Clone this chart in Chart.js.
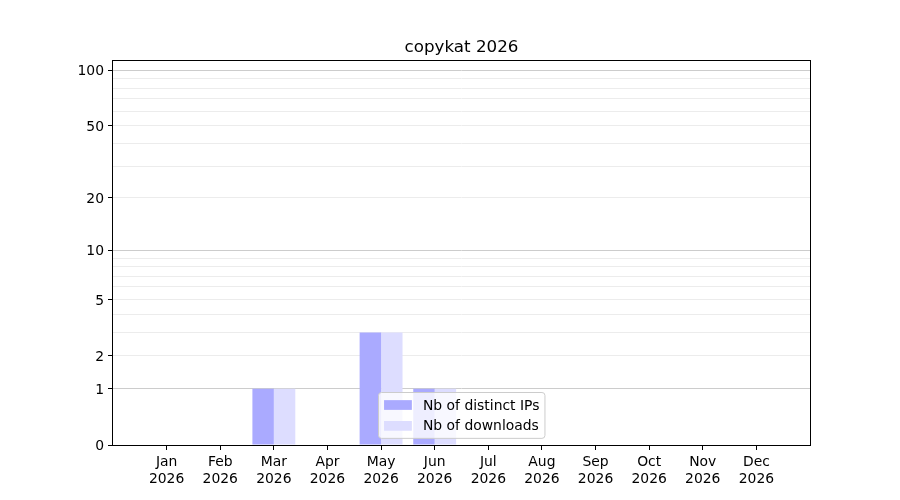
<!DOCTYPE html>
<html lang="en">
<head>
<meta charset="UTF-8">
<title>copykat 2026</title>
<script src="https://cdn.jsdelivr.net/npm/chart.js"></script>
<style>
  html, body { margin: 0; padding: 0; background: #fff; }
  #wrap { width: 900px; height: 500px; }
</style>
</head>
<body>
<div id="wrap"><canvas id="chart" width="900" height="500"></canvas></div>
<script>
// chart data
const chartTitle = 'copykat 2026';
const months = ['Jan', 'Feb', 'Mar', 'Apr', 'May', 'Jun', 'Jul', 'Aug', 'Sep', 'Oct', 'Nov', 'Dec'];
const year = '2026';
const distinctIPs = [0, 0, 1, 0, 3, 1, 0, 0, 0, 0, 0, 0];
const downloads = [0, 0, 1, 0, 3, 1, 0, 0, 0, 0, 0, 0];
const seriesNames = ['Nb of distinct IPs', 'Nb of downloads'];
const seriesColors = ['#aaaaff', '#ddddff'];

// y axis is log10(1 + v)
const yLabelled = [0, 1, 2, 5, 10, 20, 50, 100];
const yMajor = [1, 10, 100];
const yMinor = [2, 3, 4, 5, 6, 7, 8, 9, 20, 30, 40, 50, 60, 70, 80, 90];
const yTop = 113.6;

const FONT = "'DejaVu Sans', sans-serif";
const FS = 13.9;
const tf = v => Math.log10(1 + v);

// pad the month axis with an empty slot on both ends (matplotlib margins)
const labels = ['', ...months.map(m => [m, year]), ''];
const padded = arr => [null, ...arr.map(tf), null];

const decor = {
    id: 'decor',
    afterDatasetsDraw(chart) {
        const { ctx, chartArea: a } = chart;
        ctx.save();
        ctx.strokeStyle = '#000';
        ctx.lineWidth = 1;
        ctx.strokeRect(Math.round(a.left) - 0.5, Math.round(a.top) + 0.5,
            Math.round(a.right - a.left) + 1, Math.round(a.bottom - a.top));
        ctx.restore();
    },
    afterDraw(chart) {
        const { ctx, chartArea: a } = chart;
        const cx = (a.left + a.right) / 2;
        ctx.save();

        // title
        ctx.fillStyle = '#000';
        ctx.font = `16.7px ${FONT}`;
        ctx.textAlign = 'center';
        ctx.textBaseline = 'alphabetic';
        ctx.fillText(chartTitle, cx, a.top - 8.3);

        // legend, lower center inside the axes
        ctx.font = `${FS}px ${FONT}`;
        const pad = 0.4 * FS, hl = 2 * FS, htp = 0.8 * FS, sp = 0.5 * FS;
        const tw = Math.max(...seriesNames.map(s => ctx.measureText(s).width));
        const w = pad * 2 + hl + htp + tw;
        const h = pad * 2 + FS * seriesNames.length + sp * (seriesNames.length - 1);
        const x0 = Math.round(cx - w / 2) + 0.5;
        const y0 = Math.round(a.bottom - 0.5 * FS - h) + 0.5;
        ctx.beginPath();
        ctx.roundRect(x0, y0, w, h, 3);
        ctx.fillStyle = 'rgba(255,255,255,0.8)';
        ctx.fill();
        ctx.strokeStyle = '#cccccc';
        ctx.lineWidth = 1;
        ctx.stroke();

        ctx.textAlign = 'left';
        ctx.textBaseline = 'middle';
        seriesNames.forEach((name, i) => {
            const rowC = y0 + pad + FS / 2 + i * (FS + sp);
            ctx.fillStyle = seriesColors[i];
            ctx.fillRect(x0 + pad, rowC - 0.35 * FS, hl, 0.7 * FS);
            ctx.fillStyle = '#000';
            ctx.fillText(name, x0 + pad + hl + htp, rowC + 1);
        });
        ctx.restore();
    }
};

new Chart(document.getElementById('chart'), {
    type: 'bar',
    data: {
        labels: labels,
        datasets: [{
            label: seriesNames[0],
            data: padded(distinctIPs),
            backgroundColor: seriesColors[0],
            borderWidth: 0,
            categoryPercentage: 0.8,
            barPercentage: 1.0
        }, {
            label: seriesNames[1],
            data: padded(downloads),
            backgroundColor: seriesColors[1],
            borderWidth: 0,
            categoryPercentage: 0.8,
            barPercentage: 1.0
        }]
    },
    options: {
        responsive: false,
        animation: false,
        devicePixelRatio: 1,
        layout: { padding: { left: 0, top: 60, right: 90, bottom: 0 } },
        plugins: {
            legend: { display: false },
            tooltip: { enabled: false },
            title: { display: false }
        },
        scales: {
            x: {
                type: 'category',
                offset: false,
                border: { display: false },
                grid: {
                    offset: false,
                    drawOnChartArea: false,
                    drawTicks: true,
                    tickLength: 5,
                    tickColor: c => (c.index === 0 || c.index === labels.length - 1) ? 'rgba(0,0,0,0)' : '#000'
                },
                ticks: {
                    autoSkip: false,
                    maxRotation: 0,
                    padding: 4,
                    color: '#000',
                    font: { family: FONT, size: FS, lineHeight: 1.2 }
                },
                afterFit: s => { s.height = 55; }
            },
            y: {
                type: 'linear',
                min: 0,
                max: tf(yTop),
                border: { display: false },
                grid: {
                    color: c => {
                        const raw = c.tick && c.tick.raw;
                        if (raw === 0) return 'rgba(0,0,0,0)';
                        return yMajor.includes(raw) ? '#cccccc' : '#ececec';
                    },
                    tickColor: c => yLabelled.includes(c.tick && c.tick.raw) ? '#000' : 'rgba(0,0,0,0)',
                    tickLength: 5,
                    lineWidth: 1
                },
                afterBuildTicks: s => {
                    const vals = [...new Set([0, ...yMajor, ...yMinor])].sort((p, q) => p - q);
                    s.ticks = vals.map(v => ({ value: tf(v), raw: v }));
                },
                ticks: {
                    autoSkip: false,
                    padding: 4,
                    labelOffset: 1.5,
                    color: '#000',
                    font: { family: FONT, size: FS },
                    callback: (value, i, ticks) => {
                        const raw = ticks[i].raw;
                        return yLabelled.includes(raw) ? String(raw) : '';
                    }
                },
                afterFit: s => { s.width = 113; }
            }
        }
    },
    plugins: [decor]
});
</script>
</body>
</html>
